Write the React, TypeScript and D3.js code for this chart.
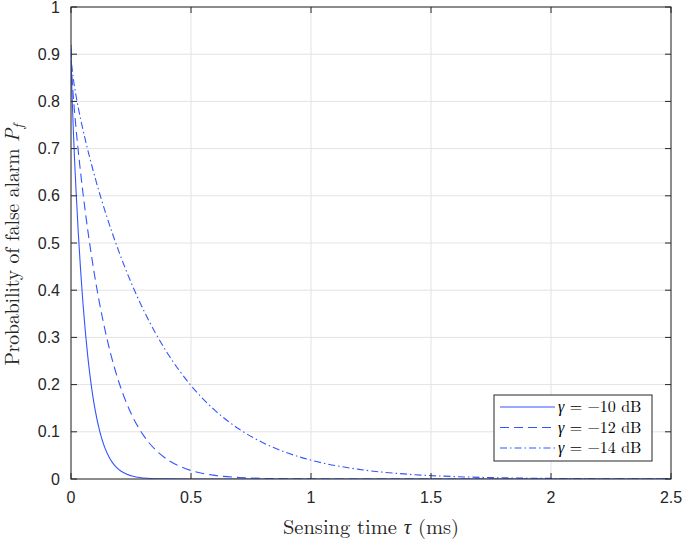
import React from "react";
import * as d3 from "d3";

const xTicks = [0, 0.5, 1, 1.5, 2, 2.5];
const xTickLabels = ["0", "0.5", "1", "1.5", "2", "2.5"];
const yTicks = [0, 0.1, 0.2, 0.3, 0.4, 0.5, 0.6, 0.7, 0.8, 0.9, 1];
const yTickLabels = ["0", "0.1", "0.2", "0.3", "0.4", "0.5", "0.6", "0.7", "0.8", "0.9", "1"];

const seriesNames = ["\u221210 dB", "\u221212 dB", "\u221214 dB"];

const tau10 = [0, 0.001, 0.002, 0.003, 0.005, 0.01, 0.015, 0.02, 0.03, 0.04, 0.05, 0.06, 0.07, 0.08, 0.09, 0.1, 0.12, 0.14, 0.16, 0.18, 0.2, 0.25, 0.3, 0.4, 0.5, 1, 2.5];
const pf10 = [0.9198, 0.8768, 0.8549, 0.8364, 0.804, 0.7354, 0.6755, 0.6211, 0.5248, 0.4422, 0.3714, 0.3108, 0.2593, 0.2157, 0.1788, 0.1479, 0.1004, 0.0675, 0.0451, 0.0299, 0.0197, 0.00677, 0.00227, 0.00024, 0.00002, 0, 0];

const tau12 = [0, 0.001, 0.002, 0.003, 0.005, 0.01, 0.02, 0.03, 0.04, 0.06, 0.08, 0.1, 0.12, 0.15, 0.18, 0.2, 0.25, 0.3, 0.35, 0.4, 0.5, 0.6, 0.7, 0.8, 1, 1.5, 2.5];
const pf12 = [0.9131, 0.886, 0.8732, 0.8627, 0.8448, 0.8082, 0.7482, 0.6962, 0.649, 0.5647, 0.4911, 0.4264, 0.3695, 0.297, 0.2378, 0.2045, 0.1393, 0.0939, 0.0628, 0.0417, 0.018, 0.00764, 0.00318, 0.0013, 0.00021, 0.000002, 0];

const tau14 = [0, 0.001, 0.002, 0.003, 0.005, 0.01, 0.02, 0.03, 0.04, 0.06, 0.08, 0.1, 0.15, 0.2, 0.25, 0.3, 0.35, 0.4, 0.5, 0.6, 0.7, 0.8, 0.9, 1, 1.2, 1.4, 1.6, 1.8, 2, 2.5];
const pf14 = [0.9085, 0.8914, 0.8837, 0.8775, 0.8673, 0.8469, 0.8147, 0.7874, 0.7627, 0.7178, 0.677, 0.6392, 0.5546, 0.4811, 0.4167, 0.3604, 0.3111, 0.2681, 0.198, 0.1453, 0.1059, 0.0769, 0.0555, 0.0399, 0.0204, 0.01025, 0.0051, 0.00251, 0.00123, 0.0002];

const W = 685;
const H = 540;
const margin = { left: 71, right: 14, top: 7, bottom: 61 };
const color = "#3355ff";
const axisColor = "#262626";
const dashes = ["", "9,5", "7,3,1.5,3"];

export default function App() {
  const x = d3.scaleLinear().domain([0, 2.5]).range([margin.left, W - margin.right]);
  const y = d3.scaleLinear().domain([0, 1]).range([H - margin.bottom, margin.top]);
  const line = d3
    .line<[number, number]>()
    .x((d) => x(d[0]))
    .y((d) => y(d[1]))
    .curve(d3.curveMonotoneX);

  const series = [
    d3.zip(tau10, pf10) as [number, number][],
    d3.zip(tau12, pf12) as [number, number][],
    d3.zip(tau14, pf14) as [number, number][],
  ];

  const x0 = x(0), x1 = x(2.5), y0 = y(0), y1 = y(1);
  const tl = 6;
  const sans = "Helvetica, Arial, 'Liberation Sans', sans-serif";
  const serif = "'Latin Modern Roman', 'CMU Serif', 'Liberation Serif', 'DejaVu Serif', serif";

  const lg = { x: 494, y: 395, w: 158, h: 66 };

  return (
    <svg width={W} height={H} style={{ position: "absolute", left: 0, top: 0, background: "#fff" }}>
      <rect x={0} y={0} width={W} height={H} fill="#fff" />
      <defs>
        <clipPath id="plotclip">
          <rect x={x0} y={y1} width={x1 - x0} height={y0 - y1} />
        </clipPath>
      </defs>
      {/* grid */}
      {xTicks.map((t) => (
        <line key={"gx" + t} x1={x(t)} x2={x(t)} y1={y0} y2={y1} stroke="#e3e3e3" strokeWidth={1} />
      ))}
      {yTicks.map((t) => (
        <line key={"gy" + t} x1={x0} x2={x1} y1={y(t)} y2={y(t)} stroke="#e3e3e3" strokeWidth={1} />
      ))}
      {/* curves */}
      <g clipPath="url(#plotclip)">
        {series.map((s, i) => (
          <path
            key={i}
            d={line(s) || ""}
            fill="none"
            stroke={color}
            strokeWidth={1.1}
            strokeDasharray={dashes[i] || undefined}
          />
        ))}
      </g>
      {/* box */}
      <rect x={x0} y={y1} width={x1 - x0} height={y0 - y1} fill="none" stroke={axisColor} strokeWidth={1} />
      {/* ticks */}
      {xTicks.map((t) => (
        <g key={"tx" + t}>
          <line x1={x(t)} x2={x(t)} y1={y0} y2={y0 - tl} stroke={axisColor} />
          <line x1={x(t)} x2={x(t)} y1={y1} y2={y1 + tl} stroke={axisColor} />
        </g>
      ))}
      {yTicks.map((t) => (
        <g key={"ty" + t}>
          <line x1={x0} x2={x0 + tl} y1={y(t)} y2={y(t)} stroke={axisColor} />
          <line x1={x1} x2={x1 - tl} y1={y(t)} y2={y(t)} stroke={axisColor} />
        </g>
      ))}
      {/* tick labels */}
      {xTicks.map((t, i) => (
        <text key={"lx" + t} x={x(t)} y={y0 + 24} textAnchor="middle" fontFamily={sans} fontSize={16} fill={axisColor}>
          {xTickLabels[i]}
        </text>
      ))}
      {yTicks.map((t, i) => (
        <text key={"ly" + t} x={x0 - 11} y={y(t) + 5.5} textAnchor="end" fontFamily={sans} fontSize={16} fill={axisColor}>
          {yTickLabels[i]}
        </text>
      ))}
      {/* axis labels */}
      <text x={(x0 + x1) / 2} y={534} textAnchor="middle" fontFamily={serif} fontSize={20.5} fill={axisColor}>
        Sensing time <tspan fontStyle="italic">τ</tspan> (ms)
      </text>
      <text
        transform={`translate(19, ${(y0 + y1) / 2 + 2}) rotate(-90)`}
        textAnchor="middle"
        fontFamily={serif}
        fontSize={19.5}
        fill={axisColor}
      >
        Probability of false alarm <tspan fontStyle="italic">P</tspan>
        <tspan fontStyle="italic" fontSize={14} dy={4}>f</tspan>
      </text>
      {/* legend */}
      <rect x={lg.x} y={lg.y} width={lg.w} height={lg.h} fill="#fff" stroke="#262626" strokeWidth={1} />
      {seriesNames.map((n, i) => {
        const ry = lg.y + 12 + i * 20.5;
        return (
          <g key={"lg" + i}>
            <line x1={lg.x + 6} x2={lg.x + 61} y1={ry} y2={ry} stroke={color} strokeWidth={1.1} strokeDasharray={dashes[i] || undefined} />
            <text x={lg.x + 64} y={ry + 5} fontFamily={serif} fontSize={16} fill="#000">
              <tspan fontStyle="italic">γ</tspan>{" = " + n}
            </text>
          </g>
        );
      })}
    </svg>
  );
}
